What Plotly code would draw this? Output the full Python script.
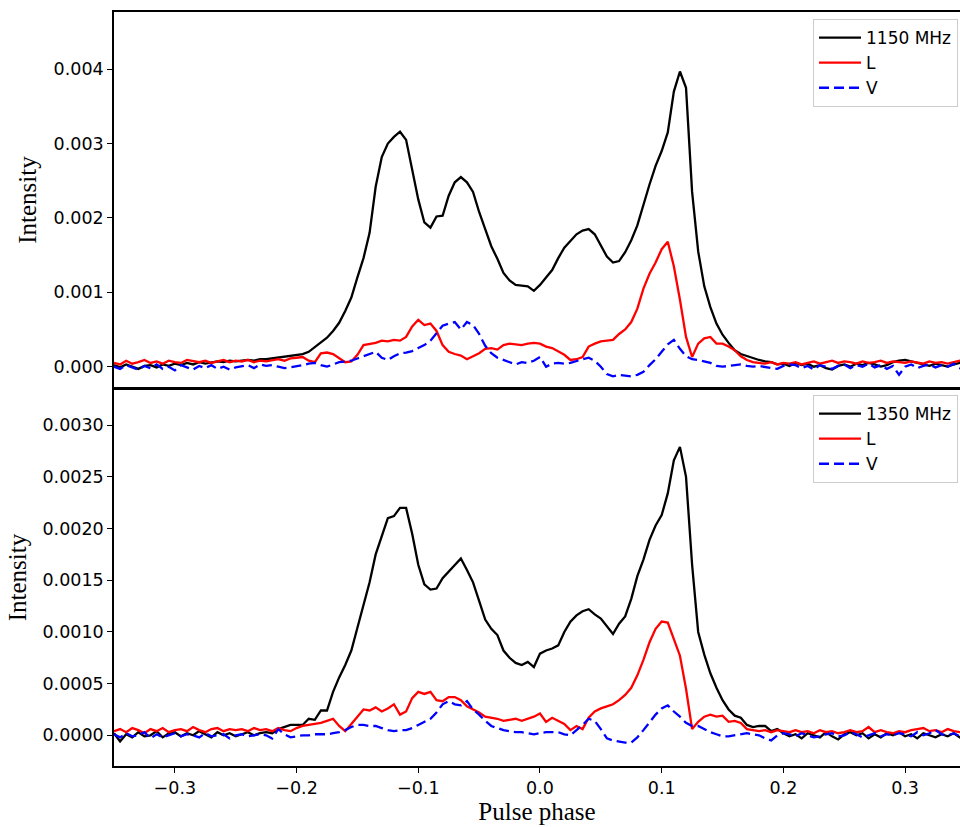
import numpy as np
import plotly.graph_objects as go

# Pulse phase bins (step 0.005 cycles)
phase = np.round(np.linspace(-0.35, 0.35, 141), 3)

# Profiles in units of 1e-4 (total intensity, linear L, circular V)
i_1150 = [
    0.2, -0.1, 0.3, 0.0, -0.3, 0.1, 0.2, -0.1, 0.3, 0.1,
    0.4, 0.2, 0.5, 0.3, 0.6, 0.4, 0.5, 0.7, 0.6, 0.8, 0.7,
    0.8, 0.9, 0.8, 1.0, 1.0, 1.1, 1.2, 1.3, 1.4, 1.5,
    1.7, 2.0, 2.6, 3.3, 3.9, 4.8, 5.9, 7.5, 9.3, 12.0,
    14.6, 18.0, 24.2, 28.2, 30.0, 30.9, 31.6, 30.5, 26.5, 22.5,
    19.4, 18.7, 20.2, 20.3, 23.0, 24.8, 25.5, 24.8, 23.5, 20.8,
    18.5, 16.2, 14.5, 12.6, 11.6, 11.0, 10.9, 10.8, 10.2, 11.0,
    12.0, 13.0, 14.6, 16.0, 16.9, 17.8, 18.3, 18.5, 17.8, 16.3,
    14.8, 14.0, 14.2, 15.4, 17.0, 19.0, 21.8, 24.5, 27.0, 29.0,
    31.5, 37.0, 39.7, 37.5, 23.5, 15.5, 10.8, 8.0, 5.8, 4.3,
    3.2, 2.2, 1.7, 1.4, 1.2, 0.9, 0.7, 0.6, 0.3, 0.4,
    0.1, 0.5, 0.2, 0.4, 0.0, 0.2, -0.2, -0.4, 0.1, 0.3,
    0.0, 0.4, 0.2, 0.5, 0.3, 0.0, 0.2, 0.6, 0.8, 0.9,
    0.7, 0.5, 0.3, 0.1, 0.4, 0.2, 0.0, 0.3, 0.5, 0.4,
]
l_1150 = [
    0.5, 0.3, 0.8, 0.4, 0.6, 0.9, 0.5, 0.7, 0.4, 0.8,
    0.6, 0.5, 0.9, 0.7, 0.6, 0.8, 0.5, 0.7, 0.9, 0.6, 0.8,
    0.7, 0.9, 0.6, 0.8, 0.7, 0.9, 1.0, 0.8, 1.1, 1.2,
    1.3, 0.8, 0.6, 1.8, 1.9, 1.7, 1.2, 0.6, 0.7, 1.6,
    2.9, 3.0, 3.2, 3.5, 3.4, 3.6, 3.5, 4.0, 5.4, 6.3,
    5.6, 5.8, 4.8, 2.9, 2.0, 1.7, 1.5, 1.0, 1.4, 1.8,
    2.4, 2.5, 2.3, 2.9, 3.1, 3.0, 2.9, 3.1, 3.2, 3.1,
    2.7, 2.5, 2.0, 1.6, 0.9, 1.0, 1.3, 2.7, 3.1, 3.4,
    3.5, 3.6, 4.4, 5.0, 6.0, 7.8, 10.5, 12.5, 14.0, 15.8,
    16.8, 13.5, 9.0, 4.0, 1.3, 3.1, 3.8, 4.0, 3.1, 3.1,
    2.7, 2.2, 1.4, 0.9, 0.6, 0.5, 0.4, 0.6, 0.3, 0.5,
    0.4, 0.6, 0.3, 0.5, 0.7, 0.4, 0.6, 0.8, 0.5, 0.7,
    0.6, 0.4, 0.7, 0.5, 0.6, 0.8, 0.5, 0.7, 0.6, 0.5,
    0.7, 0.6, 0.4, 0.7, 0.5, 0.6, 0.4, 0.6, 0.8, 0.7,
]
v_1150 = [
    0.0, -0.3, 0.2, -0.1, -0.4, 0.1, -0.2, 0.3, -0.3, 0.0,
    -0.5, 0.2, -0.1, -0.4, 0.1, -0.2, 0.2, -0.3, 0.0, -0.4, -0.1,
    0.1, 0.2, -0.2, 0.3, 0.1, 0.2, 0.0, -0.2, -0.1, 0.0,
    0.2, 0.4, 0.5, 0.2, 0.0, 0.3, 0.6, 0.7, 0.8, 1.1,
    1.4, 1.7, 2.0, 1.2, 0.9, 1.4, 1.8, 1.9, 2.1, 2.5,
    2.9, 3.5, 4.5, 5.5, 5.8, 6.0, 5.0, 6.0, 5.6, 4.4,
    2.8, 1.8, 1.2, 0.9, 0.6, 0.3, 0.6, 0.5, 0.8, 1.3,
    0.0, 0.4, 0.5, 0.4, 0.5, 0.8, 1.0, 1.2, 0.8, 0.0,
    -1.0, -1.3, -1.1, -1.2, -1.3, -1.1, -0.7, 0.2, 1.0, 2.0,
    3.0, 3.6, 2.4, 1.4, 1.0, 0.9, 0.7, 0.5, 0.1, 0.0,
    0.1, 0.2, 0.3, 0.1, 0.0, 0.1, -0.1, -0.2, -0.3, 0.1,
    0.3, 0.2, -0.2, 0.1, -0.4, 0.2, 0.0, -0.3, 0.1, 0.3,
    -0.2, 0.2, 0.0, 0.4, -0.1, 0.2, -0.3, 0.1, -1.1, 0.0,
    0.3, -0.2, 0.1, 0.3, -0.1, 0.2, 0.0, 0.4, -0.2, 0.1,
]
i_1350 = [
    0.2, -0.6, 0.1, -0.2, 0.3, -0.1, 0.0, 0.4, -0.2, 0.2,
    0.3, -0.1, 0.2, 0.0, 0.4, 0.1, -0.2, 0.3, 0.0, 0.2, -0.1,
    0.1, 0.3, 0.0, 0.2, 0.3, 0.2, 0.6, 0.8, 1.0, 1.0,
    1.0, 1.6, 1.5, 2.4, 2.4, 4.2, 5.6, 6.8, 8.2, 10.4,
    12.6, 14.8, 17.5, 19.2, 21.0, 21.2, 22.0, 22.0, 19.5, 16.5,
    14.6, 14.1, 14.2, 15.2, 15.8, 16.4, 17.1, 16.0, 14.8, 13.0,
    11.2, 10.3, 9.7, 8.2, 7.5, 7.0, 6.8, 7.1, 6.6, 7.9,
    8.2, 8.4, 8.7, 10.0, 11.0, 11.6, 12.0, 12.2, 11.7, 11.3,
    10.5, 9.8, 10.8, 11.5, 13.2, 15.4, 17.0, 18.9, 20.3, 21.3,
    23.4, 26.6, 27.9, 25.0, 16.5, 10.0, 7.8, 6.0, 4.6, 3.4,
    2.5, 1.9, 1.7, 1.0, 0.8, 0.9, 0.9, 0.4, 0.6, 0.2,
    -0.1, 0.1, -0.3, 0.2, 0.0, -0.2, 0.3, -0.1, -0.4, 0.1,
    0.3, 0.0, 0.2, -0.3, 0.1, -0.2, 0.2, 0.0, 0.3, -0.1,
    0.1, -0.3, 0.2, 0.0, -0.2, 0.1, -0.1, 0.2, -0.2, 0.0,
]
l_1350 = [
    0.4, 0.6, 0.3, 0.7, 0.5, 0.2, 0.6, 0.4, 0.7, 0.3,
    0.5, 0.6, 0.4, 0.8, 0.5, 0.3, 0.6, 0.7, 0.4, 0.6, 0.5,
    0.6, 0.4, 0.7, 0.5, 0.6, 0.4, 0.7, 0.5, 0.4, 0.7,
    0.9, 1.0, 1.1, 1.2, 1.4, 1.6, 0.9, 0.4, 1.1, 1.8,
    2.5, 2.4, 2.7, 2.3, 2.6, 3.0, 2.0, 2.3, 3.6, 4.2,
    4.0, 4.2, 3.4, 3.3, 3.7, 3.7, 3.4, 2.8, 2.5, 2.2,
    1.8, 1.7, 1.6, 1.4, 1.5, 1.6, 1.4, 1.6, 1.8, 2.1,
    1.3, 1.7, 1.4, 1.1, 0.5, 0.9, 0.6, 1.7, 2.3, 2.6,
    2.8, 3.0, 3.4, 3.9, 4.6, 5.8, 7.3, 9.0, 10.3, 11.0,
    10.9, 9.4, 7.7, 4.5, 0.6, 1.3, 1.8, 2.0, 1.8, 1.9,
    1.3, 1.4, 1.2, 0.6, 0.5, 0.4, 0.5, 0.3, 0.5, 0.4,
    0.3, 0.5, 0.3, 0.4, 0.2, 0.5, 0.3, 0.4, 0.2, 0.3,
    0.5, 0.3, 0.4, 0.8, 0.3, 0.5, 0.3, 0.2, 0.4, 0.3,
    0.5, 0.6, 0.7, 0.4, 0.5, 0.3, 0.6, 0.4, 0.3, 0.4,
]
v_1350 = [
    0.1, -0.2, 0.2, -0.1, 0.0, 0.3, -0.3, 0.1, -0.2, 0.0,
    0.2, -0.1, 0.1, 0.0, -0.2, 0.2, -0.1, 0.0, 0.1, -0.3, 0.0,
    0.1, -0.1, 0.0, 0.1, 0.0, -0.3, 0.6, 0.1, -0.2, -0.1,
    0.0, 0.0, 0.1, 0.1, 0.1, 0.2, 0.3, 0.5, 0.8, 1.0,
    1.0, 0.9, 0.9, 0.7, 0.5, 0.4, 0.5, 0.5, 0.7, 1.0,
    1.3, 1.6, 2.2, 3.0, 3.3, 3.0, 2.9, 3.3, 2.5, 2.0,
    1.4, 0.9, 0.7, 0.5, 0.4, 0.3, 0.3, 0.2, 0.1, 0.2,
    0.3, 0.3, 0.3, 0.1, 0.0, 0.5, 1.0, 1.6, 1.4, 0.6,
    -0.3, -0.5, -0.6, -0.7, -0.7, -0.2, 0.5, 1.3, 2.0, 2.6,
    2.9, 2.3, 1.8, 1.2, 0.9, 0.9, 0.6, 0.3, 0.1, -0.1,
    -0.1, 0.0, 0.1, 0.2, 0.1, 0.0, -0.3, -0.5, 0.0, 0.2,
    0.1, -0.1, 0.2, 0.0, -0.2, -0.1, 0.1, 0.2, -0.1, 0.0,
    0.3, 0.1, -0.2, 0.0, 0.2, -0.1, 0.1, 0.0, 0.2, 0.1,
    -0.1, 0.3, 0.0, 0.2, 0.5, 0.1, 0.0, 0.2, -0.1, 0.1,
]

series = {"i_1150": i_1150, "l_1150": l_1150, "v_1150": v_1150,
          "i_1350": i_1350, "l_1350": l_1350, "v_1350": v_1350}
for name, vals in series.items():
    if len(vals) != len(phase):
        raise ValueError(f"{name}: {len(vals)} values for {len(phase)} bins")

SCALE = 1e-4
x_ticks = [-0.3, -0.2, -0.1, 0.0, 0.1, 0.2, 0.3]
x_tick_text = ["\u22120.3", "\u22120.2", "\u22120.1", "0.0", "0.1", "0.2", "0.3"]
y_ticks_top = [0.0, 0.001, 0.002, 0.003, 0.004]
y_ticks_bottom = [0.0, 0.0005, 0.001, 0.0015, 0.002, 0.0025, 0.003]

W, H = 960, 827
LW = 2.3
tick_font = dict(family="DejaVu Sans", size=17.5, color="black")
label_font = dict(family="Liberation Serif", size=25, color="black")

fig = go.Figure()

panels = [
    ("1150 MHz", i_1150, l_1150, v_1150, "x", "y", "legend"),
    ("1350 MHz", i_1350, l_1350, v_1350, "x2", "y2", "legend2"),
]
for freq, i_vals, l_vals, v_vals, xa, ya, lg in panels:
    fig.add_trace(go.Scatter(x=phase, y=np.array(i_vals) * SCALE, mode="lines",
                             name=freq, line=dict(color="black", width=LW),
                             xaxis=xa, yaxis=ya, legend=lg))
    fig.add_trace(go.Scatter(x=phase, y=np.array(l_vals) * SCALE, mode="lines",
                             name="L", line=dict(color="#ff0000", width=LW),
                             xaxis=xa, yaxis=ya, legend=lg))
    fig.add_trace(go.Scatter(x=phase, y=np.array(v_vals) * SCALE, mode="lines",
                             name="V", line=dict(color="#0000ff", width=LW, dash="10px,5px"),
                             xaxis=xa, yaxis=ya, legend=lg))

x_left = 114 / W
x_range = [-0.35, (W - 540) / 1217.0]

def ydom(top_px, bottom_px):
    return [1 - bottom_px / H, 1 - top_px / H]

axis_common = dict(showline=True, linecolor="black", linewidth=1.6,
                   showgrid=False, zeroline=False)

legend_common = dict(bgcolor="rgba(255,255,255,0.85)", bordercolor="#cccccc",
                     borderwidth=1, font=dict(family="DejaVu Sans", size=17, color="black"),
                     xanchor="left", yanchor="top", tracegroupgap=0,
                     itemwidth=42)

fig.update_layout(
    width=W, height=H,
    margin=dict(l=0, r=0, t=0, b=0),
    paper_bgcolor="white", plot_bgcolor="white",
    xaxis=dict(domain=[x_left, 1.0], range=x_range, anchor="y", mirror=True,
               showticklabels=False, ticks="", **axis_common),
    yaxis=dict(domain=ydom(12, 388), range=[-0.000287, 0.00477], anchor="x",
               tickvals=y_ticks_top, tickformat=".3f", ticks="outside", ticklen=5,
               tickwidth=1.3, tickcolor="black", tickfont=tick_font,
               title=dict(text="Intensity", font=label_font, standoff=10),
               **axis_common),
    xaxis2=dict(domain=[x_left, 1.0], range=x_range, anchor="y2", mirror=True,
                matches="x", tickvals=x_ticks, ticktext=x_tick_text,
                ticks="outside", ticklen=5, tickwidth=1.3, tickcolor="black",
                tickfont=tick_font,
                title=dict(text="Pulse phase", font=label_font, standoff=5),
                **axis_common),
    yaxis2=dict(domain=ydom(389, 766), range=[-0.000297, 0.00335], anchor="x2",
                tickvals=y_ticks_bottom, tickformat=".4f", ticks="outside", ticklen=5,
                tickwidth=1.3, tickcolor="black", tickfont=tick_font,
                title=dict(text="Intensity", font=label_font, standoff=9),
                **axis_common),
    legend=dict(x=813 / W, y=1 - 19 / H, **legend_common),
    legend2=dict(x=813 / W, y=1 - 395 / H, **legend_common),
)

fig.write_html("out.html")
